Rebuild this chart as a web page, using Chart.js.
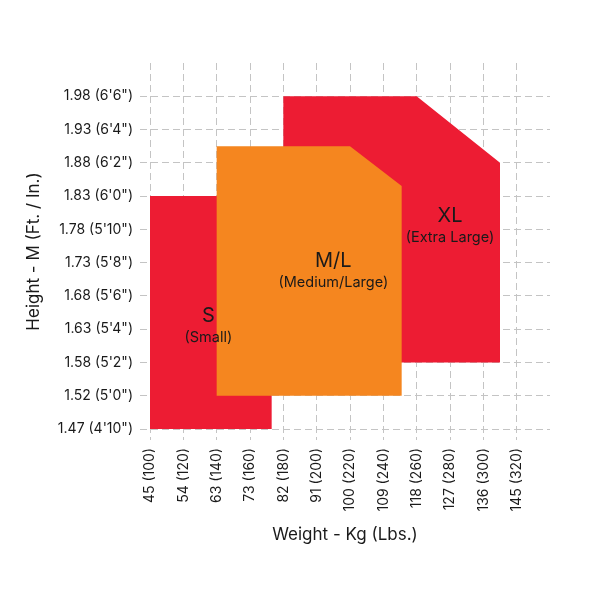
<!DOCTYPE html>
<html>
<head>
<meta charset="utf-8">
<script src="https://cdn.jsdelivr.net/npm/chart.js@4/dist/chart.umd.min.js"></script>
<style>
  html, body { margin: 0; padding: 0; background: #fff; }
  #wrap { width: 598px; height: 598px; }
</style>
</head>
<body>
<div id="wrap"><canvas id="sizeChart"></canvas></div>
<script>
// tick values: weight in lbs, height in inches
const weightLbs = [100, 120, 140, 160, 180, 200, 220, 240, 260, 280, 300, 320];
const weightLabels = ['45 (100)', '54 (120)', '63 (140)', '73 (160)', '82 (180)', '91 (200)',
  '100 (220)', '109 (240)', '118 (260)', '127 (280)', '136 (300)', '145 (320)'];
const heightIn = [58, 60, 62, 64, 66, 68, 70, 72, 74, 76, 78];
const heightLabels = ['1.47 (4\'10")', '1.52 (5\'0")', '1.58 (5\'2")', '1.63 (5\'4")', '1.68 (5\'6")',
  '1.73 (5\'8")', '1.78 (5\'10")', '1.83 (6\'0")', '1.88 (6\'2")', '1.93 (6\'4")', '1.98 (6\'6")'];

// size zones (outline corners, weight lbs / height in)
const sizeNames = ['S', 'M/L', 'XL'];
const sizeSubs = ['(Small)', '(Medium/Large)', '(Extra Large)'];
const sZoneX = [100, 100, 140, 173, 173, 100];
const sZoneY = [58, 72, 72, 68.9, 58, 58];
const mlZoneX = [140, 140, 220, 251, 251, 140];
const mlZoneY = [60, 75, 75, 72.6, 60, 60];
const xlZoneX = [180, 180, 260, 310, 310, 180];
const xlZoneY = [62, 78, 78, 74, 62, 62];
// where each zone's name sits
const labelX = [135, 210, 280];
const labelY = [64.8, 68.1, 70.8];

const RED = '#ED1C33';
const ORANGE = '#F5861F';

function toPoints(xs, ys) {
    return xs.map((x, i) => ({ x: x, y: ys[i] }));
}

// 'order': higher numbers are drawn first (further back)
const zones = [
    { pts: toPoints(xlZoneX, xlZoneY), color: RED, order: 3 },
    { pts: toPoints(sZoneX, sZoneY), color: RED, order: 2 },
    { pts: toPoints(mlZoneX, mlZoneY), color: ORANGE, order: 1 }
];

const zoneLabels = {
    id: 'zoneLabels',
    afterDatasetsDraw(chart) {
        const ctx = chart.ctx;
        const xs = chart.scales.x, ys = chart.scales.y;
        ctx.save();
        ctx.textAlign = 'center';
        ctx.textBaseline = 'middle';
        ctx.fillStyle = '#1a1a1a';
        sizeNames.forEach((name, i) => {
            const px = xs.getPixelForValue(labelX[i]);
            const py = ys.getPixelForValue(labelY[i]);
            ctx.font = '20px Inter';
            ctx.fillText(name, px, py);
            ctx.font = '14.5px Inter';
            ctx.fillText(sizeSubs[i], px, py + 22);
        });
        ctx.restore();
    }
};

const gridStyle = {
    color: '#c4c4c4',
    lineWidth: 1,
    drawTicks: false
};

new Chart(document.getElementById('sizeChart'), {
    type: 'scatter',
    data: {
        datasets: zones.map(z => ({
            data: z.pts,
            order: z.order,
            showLine: true,
            fill: 'shape',
            backgroundColor: z.color,
            borderColor: z.color,
            borderWidth: 0,
            pointRadius: 0,
            tension: 0
        }))
    },
    options: {
        responsive: true,
        maintainAspectRatio: false,
        animation: false,
        layout: { padding: { left: 20, right: 48, top: 63, bottom: 48 } },
        plugins: { legend: { display: false }, tooltip: { enabled: false } },
        scales: {
            x: {
                type: 'linear',
                min: 94,
                max: 340,
                z: 1,
                grid: gridStyle,
                border: { display: false, dash: [7, 4] },
                afterBuildTicks: s => { s.ticks = weightLbs.map(v => ({ value: v })); },
                afterFit: s => { s.height = 110; },
                ticks: {
                    autoSkip: false,
                    minRotation: 90,
                    maxRotation: 90,
                    padding: 8,
                    color: '#1a1a1a',
                    font: { family: 'Inter', size: 14 },
                    callback: v => weightLabels[weightLbs.indexOf(v)]
                },
                title: {
                    display: true,
                    text: 'Weight - Kg (Lbs.)',
                    color: '#1a1a1a',
                    font: { family: 'Inter', size: 17 },
                    padding: { top: 0, bottom: 5 }
                }
            },
            y: {
                type: 'linear',
                min: 57.34,
                max: 80,
                z: 1,
                grid: gridStyle,
                border: { display: false, dash: [7, 4] },
                afterBuildTicks: s => { s.ticks = heightIn.map(v => ({ value: v })); },
                afterFit: s => { s.width = 120; },
                ticks: {
                    autoSkip: false,
                    padding: 7,
                    color: '#1a1a1a',
                    font: { family: 'Inter', size: 14 },
                    callback: v => heightLabels[heightIn.indexOf(v)]
                },
                title: {
                    display: true,
                    text: 'Height - M (Ft. / In.)',
                    color: '#1a1a1a',
                    font: { family: 'Inter', size: 17 },
                    padding: { top: 4, bottom: 0 }
                }
            }
        }
    },
    plugins: [zoneLabels]
});
</script>
</body>
</html>
